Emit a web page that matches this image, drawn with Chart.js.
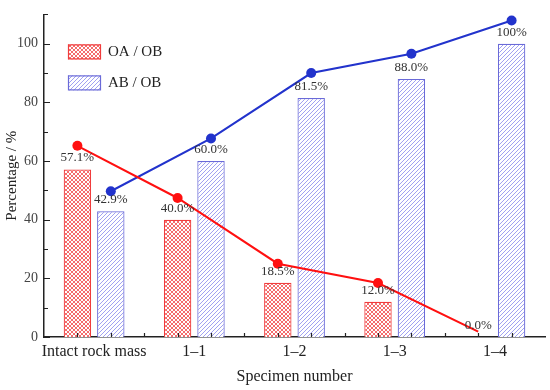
<!DOCTYPE html>
<html><head><meta charset="utf-8">
<script src="https://cdn.jsdelivr.net/npm/chart.js@4.4.1/dist/chart.umd.min.js"></script>
<style>html,body{margin:0;padding:0;background:#fff}#wrap{width:550px;height:390px}</style>
</head><body><div id="wrap"><canvas id="c" width="550" height="390"></canvas></div>
<script>
// ---- data ----
const categories = ['Intact rock mass', '1\u20131', '1\u20132', '1\u20133', '1\u20134'];
const seriesNames = ['OA / OB', 'AB / OB'];
const oaobBars = [57.1, 40.0, 18.5, 12.0, 0];
const abobBars = [42.9, 60.0, 81.5, 88.0, 100];
const oaobBarLabels = ['57.1%', '40.0%', '18.5%', '12.0%', '0.0%'];
const abobBarLabels = ['42.9%', '60.0%', '81.5%', '88.0%', '100%'];
const oaobLine = [65.2, 47.4, 25.0, 18.4, 1.8];
const abobLine = [49.7, 67.7, 90.0, 96.6, 107.9];
const oaobLineMarkers = [true, true, true, true, false];
const yTickValues = [0, 20, 40, 60, 80, 100];
const yMinorStep = 10;
const yMax = 110;

// ---- styles ----
const SERIF = '"Liberation Serif", "Times New Roman", serif';
const RED = '#ff1010';
const BLUE = '#2233cc';
const groupShift = 1 / 6;   // each bar of a pair sits 1/6 category from the centre
const barPct = 0.82;

const ctx = document.getElementById('c').getContext('2d');

function crossPattern() {
  const c = document.createElement('canvas'); c.width = 4; c.height = 4;
  const g = c.getContext('2d');
  g.fillStyle = '#fff'; g.fillRect(0, 0, 4, 4);
  g.strokeStyle = 'rgba(240,60,60,0.75)'; g.lineWidth = 1;
  g.beginPath(); g.moveTo(0, 0); g.lineTo(4, 4); g.moveTo(4, 0); g.lineTo(0, 4); g.stroke();
  return ctx.createPattern(c, 'repeat');
}
function hatchPattern() {
  const c = document.createElement('canvas'); c.width = 4; c.height = 4;
  const g = c.getContext('2d');
  g.fillStyle = '#fff'; g.fillRect(0, 0, 4, 4);
  g.strokeStyle = 'rgb(120,120,235)'; g.lineWidth = 0.7;
  g.beginPath();
  g.moveTo(-1, 5); g.lineTo(5, -1);
  g.moveTo(-1, 1); g.lineTo(1, -1);
  g.moveTo(3, 5); g.lineTo(5, 3);
  g.stroke();
  return ctx.createPattern(c, 'repeat');
}
const redFill = crossPattern();
const blueFill = hatchPattern();

const toXY = (arr, shift) => arr.map((v, i) => ({ x: i + shift, y: v }));

const labelsPlugin = {
  id: 'barLabels',
  afterDatasetsDraw(chart) {
    const g = chart.ctx;
    g.save();
    g.font = '13px ' + SERIF; g.fillStyle = '#333'; g.textAlign = 'center'; g.textBaseline = 'bottom';
    [[0, oaobBarLabels], [1, abobBarLabels]].forEach(([di, labs]) => {
      chart.getDatasetMeta(di).data.forEach((el, i) => { g.fillText(labs[i], el.x, el.y - 5); });
    });
    g.restore();
  }
};

const ticksPlugin = {
  id: 'inwardTicks',
  afterDraw(chart) {
    const g = chart.ctx, ys = chart.scales.y, xs = chart.scales.xl, a = chart.chartArea;
    g.save(); g.strokeStyle = '#222'; g.lineWidth = 1.2; g.beginPath();
    for (let v = 0; v <= yMax; v += yMinorStep) {
      const y = Math.round(ys.getPixelForValue(v)) + 0.5;
      const len = yTickValues.includes(v) ? 6 : 4;
      g.moveTo(a.left, y); g.lineTo(a.left + len, y);
    }
    for (let k = 0; ; k++) {
      const x = xs.getPixelForValue(-groupShift + k / 3);
      if (x >= a.right - 2) break;
      const xx = Math.round(x) + 0.5;
      g.moveTo(xx, a.bottom); g.lineTo(xx, a.bottom - 4);
    }
    g.stroke(); g.restore();
  }
};

const legendPlugin = {
  id: 'insideLegend',
  afterDraw(chart) {
    const g = chart.ctx, a = chart.chartArea;
    const fills = [redFill, blueFill], borders = ['#f03c3c', '#6a6ad8'];
    g.save();
    g.font = '15px ' + SERIF; g.textBaseline = 'middle'; g.textAlign = 'left';
    seriesNames.forEach((name, i) => {
      const x = a.left + 24, y = a.top + 30 + i * 31;
      g.fillStyle = fills[i]; g.fillRect(x, y, 33, 15);
      g.strokeStyle = borders[i]; g.lineWidth = 1.2; g.strokeRect(x + 0.5, y + 0.5, 32, 14);
      g.fillStyle = '#222'; g.fillText(name, x + 40, y + 8);
    });
    g.restore();
  }
};

new Chart(ctx, {
  data: {
    labels: categories,
    datasets: [
      { type: 'bar', label: seriesNames[0], xAxisID: 'xl', data: toXY(oaobBars, -groupShift), backgroundColor: redFill, borderColor: '#f03c3c', borderWidth: 1.2, grouped: false, categoryPercentage: 1, barPercentage: barPct, order: 2 },
      { type: 'bar', label: seriesNames[1], xAxisID: 'xl', data: toXY(abobBars, groupShift), backgroundColor: blueFill, borderColor: '#6a6ad8', borderWidth: 1.2, grouped: false, categoryPercentage: 1, barPercentage: barPct, order: 2 },
      { type: 'line', label: seriesNames[0], xAxisID: 'xl', data: toXY(oaobLine, -groupShift),
        borderColor: RED, borderWidth: 2, pointBackgroundColor: RED, pointBorderWidth: 0,
        pointRadius: oaobLineMarkers.map(m => m ? 5 : 0), tension: 0, order: 1 },
      { type: 'line', label: seriesNames[1], xAxisID: 'xl', data: toXY(abobLine, groupShift),
        borderColor: BLUE, borderWidth: 2, pointBackgroundColor: BLUE, pointBorderWidth: 0,
        pointRadius: 5, tension: 0, order: 1 }
    ]
  },
  options: {
    responsive: false, animation: false, devicePixelRatio: 1,
    layout: { padding: { top: 10, right: 5, left: 0, bottom: 0 } },
    plugins: { legend: { display: false }, tooltip: { enabled: false } },
    scales: {
      x: {
        type: 'category', offset: true, position: 'bottom',
        grid: { display: false, drawTicks: false }, border: { display: true, color: '#222', width: 1.5 },
        ticks: { font: { family: SERIF, size: 16 }, color: '#222', padding: 5, maxRotation: 0, autoSkip: false },
        title: { display: true, text: 'Specimen number', font: { family: SERIF, size: 16 }, color: '#222', padding: { top: 0, bottom: 4 } },
        afterFit(s) { s.height = 53; }
      },
      xl: { type: 'linear', min: -0.5, max: 4.5, offset: false, display: false, grid: { offset: false } },
      y: {
        min: 0, max: yMax,
        grid: { display: false, drawTicks: false }, border: { display: true, color: '#222', width: 1.5 },
        afterBuildTicks(s) { s.ticks = yTickValues.map(v => ({ value: v })); },
        ticks: { font: { family: SERIF, size: 14 }, color: '#444', padding: 6 },
        title: { display: true, text: 'Percentage / %', font: { family: SERIF, size: 15 }, color: '#222', padding: { top: 3, bottom: 0 } },
        afterFit(s) { s.width = 44; }
      }
    }
  },
  plugins: [labelsPlugin, ticksPlugin, legendPlugin]
});
</script></body></html>
